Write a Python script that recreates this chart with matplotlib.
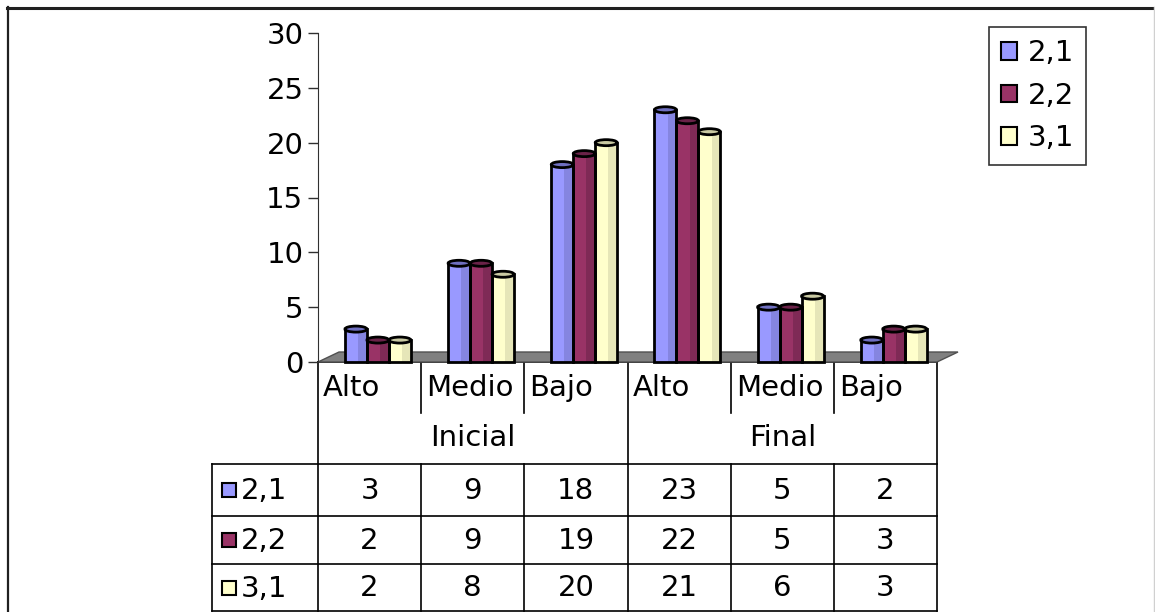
import matplotlib.pyplot as plt
import matplotlib.patches as mpatches
import numpy as np

# data
levels = ["Alto", "Medio", "Bajo", "Alto", "Medio", "Bajo"]
stages = ["Inicial", "Final"]
series = ["2,1", "2,2", "3,1"]
s21 = [3, 9, 18, 23, 5, 2]
s22 = [2, 9, 19, 22, 5, 3]
s31 = [2, 8, 20, 21, 6, 3]
values = [s21, s22, s31]

light = ["#9999FF", "#993366", "#FFFFCC"]
dark = ["#8585E0", "#7F2A56", "#E6E6B8"]
top = ["#6F6FC0", "#6A2248", "#C9C9A2"]

plt.rcParams['font.family'] = ['DejaVu Sans']
FS = 21

W, H = 1155, 612
fig = plt.figure(figsize=(W / 100, H / 100), dpi=100)

# overlay in pixel coords for frame + data table
bg = fig.add_axes([0, 0, 1, 1])
bg.set_xlim(0, W)
bg.set_ylim(H, 0)
bg.axis('off')

# outer frame
bg.plot([7, W], [7.5, 7.5], color='#202020', lw=2.2)
bg.plot([7.5, 7.5], [7, H], color='#202020', lw=1.6)
bg.plot([1153.5, 1153.5], [7, H], color='#d0d0d0', lw=1)

# main chart axes
x0, x1, yb, yt = 318, 937, 362, 33
ax = fig.add_axes([x0 / W, (H - yb) / H, (x1 - x0) / W, (yb - yt) / H])
ax.patch.set_alpha(0)
ncat = len(levels)
ax.set_xlim(0, ncat)
ax.set_ylim(0, 30)
ax.set_yticks(np.arange(0, 31, 5))
ax.set_xticks([])
for s in ['top', 'right', 'bottom']:
    ax.spines[s].set_visible(False)
ax.spines['left'].set_color('#303030')
ax.tick_params(axis='y', direction='out', length=7, width=1, pad=3.5,
               labelsize=FS, color='#303030')

# floor
px_x = ncat / (x1 - x0)
px_y = 30 / (yb - yt)
dx, dy = 21 * px_x, 10 * px_y
floor = mpatches.Polygon([(0, 0), (ncat, 0), (ncat + dx, dy), (dx, dy)],
                         closed=True, facecolor='#808080', edgecolor='#505050',
                         lw=1, clip_on=False, zorder=1)
ax.add_patch(floor)

bw = 0.213
off = 0.261
cap_h = 0.55
for k, vals in enumerate(values):
    lefts = np.arange(ncat) + off + k * bw
    ax.bar(lefts, vals, width=bw, align='edge', color=light[k], lw=0,
           zorder=3, clip_on=False)
    ax.bar(lefts + bw * 0.6, vals, width=bw * 0.4, align='edge', color=dark[k],
           lw=0, zorder=3, clip_on=False)
    ax.bar(lefts, vals, width=bw, align='edge', fill=False, edgecolor='black',
           lw=2, zorder=4, clip_on=False)
    for xl, v in zip(lefts, vals):
        ax.add_patch(mpatches.Ellipse((xl + bw / 2, v), bw, cap_h,
                                      facecolor=top[k], edgecolor='black',
                                      lw=2, zorder=5, clip_on=False))

# data table
cw = (x1 - x0) / ncat
cols = [x0 + i * cw for i in range(ncat + 1)]
lc = 'black'
lw = 1.2
r0, r1, r2 = 362, 413, 464
rows = [464, 516, 564, 611]
tl = 212

bg.plot([x0, x1], [r0, r0], color=lc, lw=lw)
for c in cols[1:-1]:
    if c == cols[3]:
        continue
    bg.plot([c, c], [r0, r1], color=lc, lw=lw)
    bg.plot([c, c], [r2, rows[-1]], color=lc, lw=lw)
for c in [cols[0], cols[3], cols[-1]]:
    bg.plot([c, c], [r0, rows[-1]], color=lc, lw=lw)
bg.plot([tl, tl], [r2, rows[-1]], color=lc, lw=lw)
for r in rows:
    bg.plot([tl, x1], [r, r], color=lc, lw=lw)

for i, lab in enumerate(levels):
    bg.text(cols[i] + 5, (r0 + r1) / 2 + 1, lab, fontsize=FS, ha='left',
            va='center')
for j, st in enumerate(stages):
    bg.text((cols[3 * j] + cols[3 * j + 3]) / 2, (r1 + r2) / 2, st,
            fontsize=FS, ha='center', va='center')

for k, name in enumerate(series):
    ym = (rows[k] + rows[k + 1]) / 2
    bg.add_patch(mpatches.Rectangle((222, ym - 7), 14, 14, facecolor=light[k],
                                    edgecolor='black', lw=1.5))
    bg.text(241, ym + 1, name, fontsize=FS, ha='left', va='center')
    for i, v in enumerate(values[k]):
        bg.text((cols[i] + cols[i + 1]) / 2, ym + 1, str(v), fontsize=FS,
                ha='center', va='center')

# legend
handles = [mpatches.Patch(facecolor=light[k], edgecolor='black', lw=1.5)
           for k in range(3)]
leg = bg.legend(handles, series, loc='upper left', bbox_to_anchor=(989, 27),
                bbox_transform=bg.transData, fontsize=FS, frameon=True,
                fancybox=False, handlelength=0.55, handleheight=0.55,
                handletextpad=0.35, labelspacing=0.5, borderpad=0.42,
                borderaxespad=0)
leg.get_frame().set_edgecolor('black')
leg.get_frame().set_linewidth(1.2)

fig.savefig("out.png", dpi=100)
